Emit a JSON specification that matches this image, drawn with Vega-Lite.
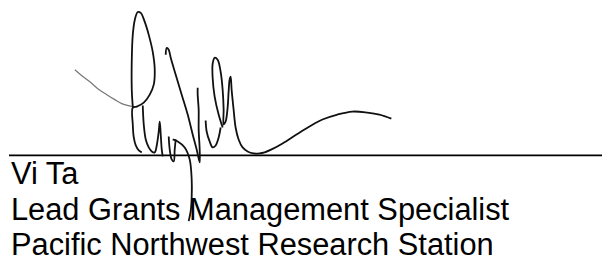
{
  "$schema": "https://vega.github.io/schema/vega-lite/v6.json",
  "width": 603,
  "height": 261,
  "padding": 0,
  "autosize": {"type": "fit", "contains": "padding"},
  "background": "white",
  "config": {"view": {"stroke": null}},
  "datasets": {
    "strokes": [
      {"s": "a", "i": 1, "x": 75, "y": 70}, {"s": "a", "i": 2, "x": 82, "y": 76}, {"s": "a", "i": 3, "x": 90, "y": 82}, {"s": "a", "i": 4, "x": 98, "y": 89}, {"s": "a", "i": 5, "x": 107, "y": 95}, {"s": "a", "i": 6, "x": 115, "y": 100}, {"s": "a", "i": 7, "x": 122, "y": 104}, {"s": "a", "i": 8, "x": 133, "y": 107},
      {"s": "b", "i": 1, "x": 133, "y": 107}, {"s": "b", "i": 2, "x": 132, "y": 90}, {"s": "b", "i": 3, "x": 132, "y": 60}, {"s": "b", "i": 4, "x": 133, "y": 35}, {"s": "b", "i": 5, "x": 135, "y": 20}, {"s": "b", "i": 6, "x": 138, "y": 12}, {"s": "b", "i": 7, "x": 141, "y": 13}, {"s": "b", "i": 8, "x": 145, "y": 22}, {"s": "b", "i": 9, "x": 149, "y": 35}, {"s": "b", "i": 10, "x": 153, "y": 52}, {"s": "b", "i": 11, "x": 155, "y": 70}, {"s": "b", "i": 12, "x": 154, "y": 85}, {"s": "b", "i": 13, "x": 150, "y": 95}, {"s": "b", "i": 14, "x": 144, "y": 103}, {"s": "b", "i": 15, "x": 137, "y": 107}, {"s": "b", "i": 16, "x": 133, "y": 108}, {"s": "b", "i": 17, "x": 133, "y": 125}, {"s": "b", "i": 18, "x": 134, "y": 138}, {"s": "b", "i": 19, "x": 136, "y": 146}, {"s": "b", "i": 20, "x": 139, "y": 151}, {"s": "b", "i": 21, "x": 142, "y": 153},
      {"s": "c", "i": 1, "x": 143, "y": 106}, {"s": "c", "i": 2, "x": 144, "y": 125}, {"s": "c", "i": 3, "x": 146, "y": 140}, {"s": "c", "i": 4, "x": 149, "y": 148}, {"s": "c", "i": 5, "x": 152, "y": 152}, {"s": "c", "i": 6, "x": 155, "y": 153}, {"s": "c", "i": 7, "x": 157, "y": 146}, {"s": "c", "i": 8, "x": 159, "y": 132}, {"s": "c", "i": 9, "x": 160, "y": 122}, {"s": "c", "i": 10, "x": 161, "y": 135}, {"s": "c", "i": 11, "x": 162, "y": 150}, {"s": "c", "i": 12, "x": 163, "y": 157},
      {"s": "d", "i": 1, "x": 169, "y": 137}, {"s": "d", "i": 2, "x": 170, "y": 150}, {"s": "d", "i": 3, "x": 172, "y": 160}, {"s": "d", "i": 4, "x": 174, "y": 162}, {"s": "d", "i": 5, "x": 175, "y": 150}, {"s": "d", "i": 6, "x": 176, "y": 140},
      {"s": "e", "i": 1, "x": 173, "y": 140}, {"s": "e", "i": 2, "x": 178, "y": 142}, {"s": "e", "i": 3, "x": 185, "y": 148}, {"s": "e", "i": 4, "x": 190, "y": 160}, {"s": "e", "i": 5, "x": 192, "y": 180}, {"s": "e", "i": 6, "x": 192, "y": 198}, {"s": "e", "i": 7, "x": 191, "y": 212}, {"s": "e", "i": 8, "x": 189, "y": 222},
      {"s": "f", "i": 1, "x": 166, "y": 55}, {"s": "f", "i": 2, "x": 167, "y": 48}, {"s": "f", "i": 3, "x": 169, "y": 50}, {"s": "f", "i": 4, "x": 171, "y": 58}, {"s": "f", "i": 5, "x": 176, "y": 75}, {"s": "f", "i": 6, "x": 182, "y": 95}, {"s": "f", "i": 7, "x": 188, "y": 115}, {"s": "f", "i": 8, "x": 193, "y": 135}, {"s": "f", "i": 9, "x": 197, "y": 150}, {"s": "f", "i": 10, "x": 200, "y": 163}, {"s": "f", "i": 11, "x": 200, "y": 150}, {"s": "f", "i": 12, "x": 199, "y": 130}, {"s": "f", "i": 13, "x": 199, "y": 110}, {"s": "f", "i": 14, "x": 198, "y": 95}, {"s": "f", "i": 15, "x": 198, "y": 88},
      {"s": "g", "i": 1, "x": 206, "y": 121}, {"s": "g", "i": 2, "x": 207, "y": 132}, {"s": "g", "i": 3, "x": 210, "y": 142}, {"s": "g", "i": 4, "x": 213, "y": 148}, {"s": "g", "i": 5, "x": 216, "y": 146}, {"s": "g", "i": 6, "x": 219, "y": 138}, {"s": "g", "i": 7, "x": 221, "y": 128},
      {"s": "h", "i": 1, "x": 223, "y": 128}, {"s": "h", "i": 2, "x": 219, "y": 115}, {"s": "h", "i": 3, "x": 215, "y": 97}, {"s": "h", "i": 4, "x": 213, "y": 78}, {"s": "h", "i": 5, "x": 213, "y": 64}, {"s": "h", "i": 6, "x": 215, "y": 58}, {"s": "h", "i": 7, "x": 218, "y": 60}, {"s": "h", "i": 8, "x": 221, "y": 72}, {"s": "h", "i": 9, "x": 223, "y": 90}, {"s": "h", "i": 10, "x": 224, "y": 110}, {"s": "h", "i": 11, "x": 224, "y": 125}, {"s": "h", "i": 12, "x": 226, "y": 122}, {"s": "h", "i": 13, "x": 228, "y": 108}, {"s": "h", "i": 14, "x": 229, "y": 92}, {"s": "h", "i": 15, "x": 230, "y": 80}, {"s": "h", "i": 16, "x": 231, "y": 77}, {"s": "h", "i": 17, "x": 232, "y": 90}, {"s": "h", "i": 18, "x": 234, "y": 110}, {"s": "h", "i": 19, "x": 236, "y": 128}, {"s": "h", "i": 20, "x": 239, "y": 140}, {"s": "h", "i": 21, "x": 243, "y": 148}, {"s": "h", "i": 22, "x": 248, "y": 152}, {"s": "h", "i": 23, "x": 254, "y": 154}, {"s": "h", "i": 24, "x": 260, "y": 154}, {"s": "h", "i": 25, "x": 265, "y": 153}, {"s": "h", "i": 26, "x": 272, "y": 150}, {"s": "h", "i": 27, "x": 283, "y": 144}, {"s": "h", "i": 28, "x": 297, "y": 135}, {"s": "h", "i": 29, "x": 310, "y": 127}, {"s": "h", "i": 30, "x": 323, "y": 120}, {"s": "h", "i": 31, "x": 338, "y": 115}, {"s": "h", "i": 32, "x": 353, "y": 112}, {"s": "h", "i": 33, "x": 368, "y": 113}, {"s": "h", "i": 34, "x": 380, "y": 115}, {"s": "h", "i": 35, "x": 392, "y": 119}
    ],
    "texts": [
      {"label": "Vi Ta", "x": 11, "y": 185},
      {"label": "Lead Grants Management Specialist", "x": 11, "y": 221},
      {"label": "Pacific Northwest Research Station", "x": 11, "y": 256}
    ],
    "rules": [{"x": 9, "x2": 603, "y": 156}]
  },
  "layer": [
    {
      "data": {"name": "rules"},
      "mark": {"type": "rule", "color": "#000", "strokeWidth": 1.8},
      "encoding": {
        "x": {"field": "x", "type": "quantitative", "scale": {"domain": [0, 603], "nice": false, "zero": false}, "axis": null},
        "x2": {"field": "x2"},
        "y": {"field": "y", "type": "quantitative", "scale": {"domain": [0, 261], "reverse": true, "nice": false, "zero": false}, "axis": null}
      }
    },
    {
      "data": {"name": "strokes"},
      "transform": [{"filter": "datum.s == 'a'"}],
      "mark": {"type": "line", "color": "#777", "strokeWidth": 1.2, "interpolate": "monotone"},
      "encoding": {
        "x": {"field": "x", "type": "quantitative"},
        "y": {"field": "y", "type": "quantitative"},
        "order": {"field": "i", "type": "quantitative"}
      }
    },
    {
      "data": {"name": "strokes"},
      "transform": [{"filter": "datum.s != 'a'"}],
      "mark": {"type": "line", "color": "#111", "strokeWidth": 1.8, "interpolate": "catmull-rom"},
      "encoding": {
        "x": {"field": "x", "type": "quantitative"},
        "y": {"field": "y", "type": "quantitative"},
        "detail": {"field": "s"},
        "order": {"field": "i", "type": "quantitative"}
      }
    },
    {
      "data": {"name": "texts"},
      "mark": {"type": "text", "align": "left", "baseline": "alphabetic", "font": "Liberation Sans", "fontSize": 30.8, "color": "#000"},
      "encoding": {
        "x": {"field": "x", "type": "quantitative"},
        "y": {"field": "y", "type": "quantitative"},
        "text": {"field": "label"}
      }
    }
  ]
}
